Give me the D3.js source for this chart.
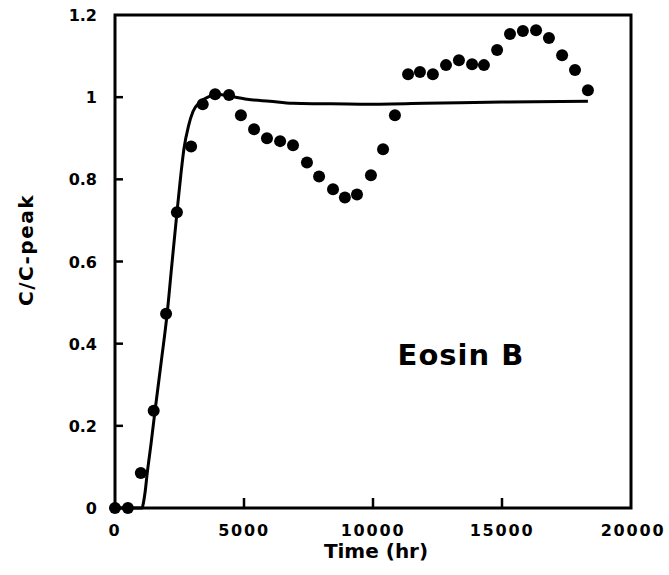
<!DOCTYPE html>
<html>
<head>
<meta charset="utf-8">
<script src="https://cdn.jsdelivr.net/npm/d3@7"></script>
<style>
  html, body { margin: 0; padding: 0; background: #fff; }
  svg text { fill: #000; }
</style>
</head>
<body>
<svg id="chart" width="669" height="575"></svg>
<script>
// Measured breakthrough data (time in hours, relative concentration)
const obsTime = [0, 500, 1000, 1500, 1980, 2400, 2950, 3400, 3880, 4420,
  4880, 5390, 5890, 6400, 6900, 7440, 7910, 8450, 8910, 9380,
  9920, 10390, 10850, 11360, 11820, 12320, 12830, 13330, 13840, 14300,
  14810, 15310, 15810, 16320, 16820, 17330, 17830, 18330];
const obsConc = [0, 0, 0.085, 0.237, 0.473, 0.72, 0.88, 0.983, 1.007, 1.005,
  0.956, 0.922, 0.90, 0.893, 0.883, 0.841, 0.807, 0.776, 0.756, 0.763,
  0.81, 0.873, 0.956, 1.056, 1.061, 1.056, 1.078, 1.09, 1.08, 1.078,
  1.115, 1.154, 1.161, 1.163, 1.144, 1.102, 1.066, 1.017];

// Model curve
const fitTime = [0, 900, 1047, 1100, 1170, 1240, 1400, 1550, 1800, 2016,
  2200, 2403, 2550, 2674, 2850, 3023, 3295, 3600, 3953, 4400,
  5116, 6000, 6900, 8000, 9500, 12000, 15000, 18330];
const fitConc = [0, 0, 0, 0.012, 0.04, 0.08, 0.158, 0.236, 0.36, 0.47,
  0.59, 0.72, 0.81, 0.875, 0.93, 0.965, 0.988, 1.0, 1.007, 1.003,
  0.995, 0.99, 0.985, 0.984, 0.983, 0.985, 0.988, 0.99];

const xTicks = [0, 5000, 10000, 15000, 20000];
const yTicks = [0, 0.2, 0.4, 0.6, 0.8, 1, 1.2];

const svg = d3.select("#chart");
const x = d3.scaleLinear().domain([0, 20000]).range([115, 631]);
const y = d3.scaleLinear().domain([0, 1.2]).range([508, 15]);

const labelFont = "'DejaVu Sans', sans-serif";

// Frame
svg.append("rect")
  .attr("x", x(0)).attr("y", y(1.2))
  .attr("width", x(20000) - x(0)).attr("height", y(0) - y(1.2))
  .attr("fill", "none").attr("stroke", "#000").attr("stroke-width", 3);

// Inward ticks
svg.append("g").selectAll("line").data(yTicks.slice(1, -1)).join("line")
  .attr("x1", x(0)).attr("x2", x(0) + 8)
  .attr("y1", d => y(d)).attr("y2", d => y(d))
  .attr("stroke", "#000").attr("stroke-width", 2.5);
svg.append("g").selectAll("line").data(xTicks.slice(1, -1)).join("line")
  .attr("x1", d => x(d)).attr("x2", d => x(d))
  .attr("y1", y(0)).attr("y2", y(0) - 10)
  .attr("stroke", "#000").attr("stroke-width", 2.5);

// Tick labels
svg.append("g").selectAll("text").data(yTicks).join("text")
  .attr("x", 97).attr("y", d => y(d) + 6)
  .attr("text-anchor", "end")
  .attr("font-family", labelFont).attr("font-weight", "bold").attr("font-size", 16)
  .text(d => d === 0 ? "0" : (d === 1 ? "1" : d3.format(".1f")(d)));
svg.append("g").selectAll("text").data(xTicks).join("text")
  .attr("x", d => x(d) + (d === 20000 ? 2 : 0)).attr("y", 536)
  .attr("text-anchor", "middle")
  .attr("font-family", labelFont).attr("font-weight", "bold").attr("font-size", 16)
  .attr("letter-spacing", 1.8)
  .text(d => String(d));

// Axis titles
svg.append("text")
  .attr("x", 376).attr("y", 558)
  .attr("text-anchor", "middle")
  .attr("font-family", labelFont).attr("font-weight", "bold").attr("font-size", 20)
  .text("Time (hr)");
svg.append("text")
  .attr("transform", "translate(33,250) rotate(-90)")
  .attr("text-anchor", "middle")
  .attr("font-family", labelFont).attr("font-weight", "bold").attr("font-size", 20)
  .attr("letter-spacing", 1.5)
  .text("C/C-peak");

// Model curve
const fit = fitTime.map((t, i) => [t, fitConc[i]]);
svg.append("path")
  .datum(fit)
  .attr("fill", "none").attr("stroke", "#000").attr("stroke-width", 3)
  .attr("stroke-linejoin", "round")
  .attr("d", d3.line().x(d => x(d[0])).y(d => y(d[1])).curve(d3.curveMonotoneX));

// Observations
svg.append("g").selectAll("circle").data(obsTime.map((t, i) => [t, obsConc[i]])).join("circle")
  .attr("cx", d => x(d[0])).attr("cy", d => y(d[1])).attr("r", 6)
  .attr("fill", "#000");

// Compound label
svg.append("text")
  .attr("x", 461).attr("y", 365)
  .attr("text-anchor", "middle")
  .attr("font-family", labelFont).attr("font-weight", "bold").attr("font-size", 29)
  .attr("letter-spacing", 1)
  .text("Eosin B");
</script>
</body>
</html>
